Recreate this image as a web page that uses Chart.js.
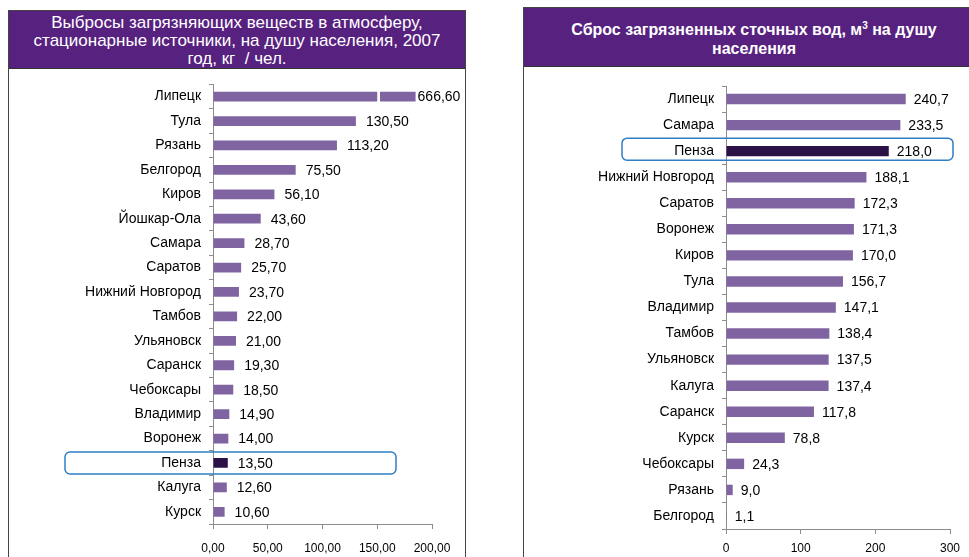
<!DOCTYPE html>
<html>
<head>
<meta charset="utf-8">
<script src="https://cdn.jsdelivr.net/npm/chart.js@4.4.1/dist/chart.umd.min.js"></script>
<style>
  html, body { margin:0; padding:0; background:#fff; width:969px; height:557px; overflow:hidden; font-family:"Liberation Sans", Arial, sans-serif; }
  .panel { position:absolute; box-sizing:border-box; border:1px solid #444; background:#fff; }
  .head { position:absolute; left:0; top:0; right:0; background:#57217f; color:#fff; text-align:center; border-bottom:1px solid #333; box-sizing:border-box; }
  .wrap { position:absolute; }
  #lp { left:8px; top:10px; width:458px; height:560px; }
  #lp .head { height:58px; font-size:17px; line-height:18px; padding-top:3px; }
  #rp { left:523px; top:7px; width:462px; height:560px; }
  #rp .head { height:59px; font-size:16px; font-weight:bold; line-height:19px; padding-top:12px; }
  #rp sup { font-size:10px; line-height:0; vertical-align:6px; }
  #lw { left:9px; top:68px; width:456px; height:489px; }
  #rw { left:524px; top:66px; width:445px; height:491px; }
</style>
</head>
<body>
<div class="panel" id="lp"><div class="head">Выбросы загрязняющих веществ в атмосферу,<br>стационарные источники, на душу населения, 2007<br>год, кг&nbsp; / чел.</div></div>
<div class="panel" id="rp"><div class="head">Сброс загрязненных сточных вод, м<sup>3</sup> на душу<br>населения</div></div>
<div class="wrap" id="lw"><canvas id="airChart"></canvas></div>
<div class="wrap" id="rw"><canvas id="waterChart"></canvas></div>
<script>
// ── DATA ─────────────────────────────────────────────────────────
const airCities = ['Липецк','Тула','Рязань','Белгород','Киров','Йошкар-Ола','Самара','Саратов','Нижний Новгород','Тамбов','Ульяновск','Саранск','Чебоксары','Владимир','Воронеж','Пенза','Калуга','Курск'];
const airValues = [666.60,130.50,113.20,75.50,56.10,43.60,28.70,25.70,23.70,22.00,21.00,19.30,18.50,14.90,14.00,13.50,12.60,10.60];
const airTicks  = [0,50,100,150,200];

const waterCities = ['Липецк','Самара','Пенза','Нижний Новгород','Саратов','Воронеж','Киров','Тула','Владимир','Тамбов','Ульяновск','Калуга','Саранск','Курск','Чебоксары','Рязань','Белгород'];
const waterValues = [240.7,233.5,218.0,188.1,172.3,171.3,170.0,156.7,147.1,138.4,137.5,137.4,117.8,78.8,24.3,9.0,1.1];
const waterTicks  = [0,100,200,300];

const HILITE = 'Пенза';
const AIR_CAP = 185;        // broken bar is drawn up to here
const AIR_BREAK = [150,152.5];

const BAR = '#8064a2', BAR_DARK = '#2c1147', AXIS = '#8c8c8c';
const FONT = '"Liberation Sans", Arial, sans-serif';
const comma = (v, d) => v.toFixed(d).replace('.', ',');

// ── PLUGINS ──────────────────────────────────────────────────────
const valueLabels = {
  id:'valueLabels',
  afterDatasetsDraw(chart, args, o) {
    const { ctx } = chart;
    const bars = chart.getDatasetMeta(0).data;
    ctx.save();
    ctx.font = '14px ' + FONT;
    ctx.fillStyle = '#000';
    ctx.textBaseline = 'middle';
    bars.forEach((b, i) => {
      const v = o.values[i];
      const gap = (o.cap && v > o.cap) ? 2 : o.gap;
      ctx.fillText(comma(v, o.dec), b.x + gap, b.y + 1);
    });
    ctx.restore();
  }
};

const hilite = {
  id:'hilite',
  afterDraw(chart, args, o) {
    const i = chart.data.labels.indexOf(HILITE);
    if (i < 0) return;
    const { ctx, chartArea } = chart;
    const y = chart.scales.y.getPixelForValue(i) + o.dy;
    const x0 = chartArea.left + o.from, x1 = chartArea.left + o.to;
    ctx.save();
    ctx.strokeStyle = '#2e7fc6';
    ctx.lineWidth = 1.5;
    ctx.beginPath();
    ctx.roundRect(x0, y - 11, x1 - x0, 22, 5);
    ctx.stroke();
    ctx.restore();
  }
};

const axisBreak = {
  id:'axisBreak',
  afterDatasetsDraw(chart, args, o) {
    if (!o.range) return;
    const { ctx } = chart;
    const xs = chart.scales.x;
    chart.getDatasetMeta(0).data.forEach((b, i) => {
      if (o.values[i] <= o.cap) return;
      const a = xs.getPixelForValue(o.range[0]), z = xs.getPixelForValue(o.range[1]);
      ctx.save();
      ctx.fillStyle = '#fff';
      ctx.fillRect(a, b.y - 8, z - a, 16);
      ctx.restore();
    });
  }
};

function makeChart(id, cities, values, cfg) {
  return new Chart(document.getElementById(id), {
    type:'bar',
    data:{ labels:cities, datasets:[{
      data: values.map(v => Math.min(v, cfg.cap || Infinity)),
      backgroundColor: cities.map(c => c === HILITE ? BAR_DARK : BAR),
      borderWidth:0, barPercentage:0.8, categoryPercentage:0.5
    }]},
    options:{
      indexAxis:'y', responsive:true, maintainAspectRatio:false, animation:false,
      layout:{ padding:{ left:0, right:cfg.padRight, top:cfg.padTop, bottom:0 } },
      plugins:{
        legend:{ display:false }, tooltip:{ enabled:false },
        valueLabels:{ values, dec:cfg.dec, gap:cfg.gap, cap:cfg.cap },
        hilite:{ from:cfg.hlFrom, to:cfg.hlTo, dy:cfg.hlDy },
        axisBreak:{ values, cap:cfg.cap, range:cfg.breakRange }
      },
      scales:{
        x:{ min:0, max:cfg.ticks[cfg.ticks.length-1],
            afterBuildTicks: s => { s.ticks = cfg.ticks.map(v => ({ value:v })); },
            afterFit: s => { s.height = cfg.xHeight; },
            border:{ color:AXIS },
            grid:{ drawOnChartArea:false, tickLength:5, color:AXIS },
            ticks:{ padding:cfg.xPad, color:'#000', font:{ size:12, family:FONT }, callback:v => comma(v, cfg.tickDec) } },
        y:{ afterFit: s => { s.width = cfg.yWidth; },
            border:{ color:AXIS },
            grid:{ drawOnChartArea:false, tickLength:4, color:AXIS },
            ticks:{ padding:8, color:'#000', font:{ size:14, family:FONT }, autoSkip:false } }
      }
    },
    plugins:[axisBreak, valueLabels, hilite]
  });
}

makeChart('airChart', airCities, airValues, {
  ticks:airTicks, dec:2, tickDec:2, gap:10, cap:AIR_CAP, breakRange:AIR_BREAK,
  padRight:33, padTop:15, yWidth:204, xHeight:33, xPad:12,
  hlFrom:-148, hlTo:183, hlDy:0
});

makeChart('waterChart', waterCities, waterValues, {
  ticks:waterTicks, dec:1, tickDec:0, gap:8,
  padRight:19, padTop:20, yWidth:202, xHeight:28, xPad:7,
  hlFrom:-104, hlTo:227, hlDy:-2
});
</script>
</body>
</html>
